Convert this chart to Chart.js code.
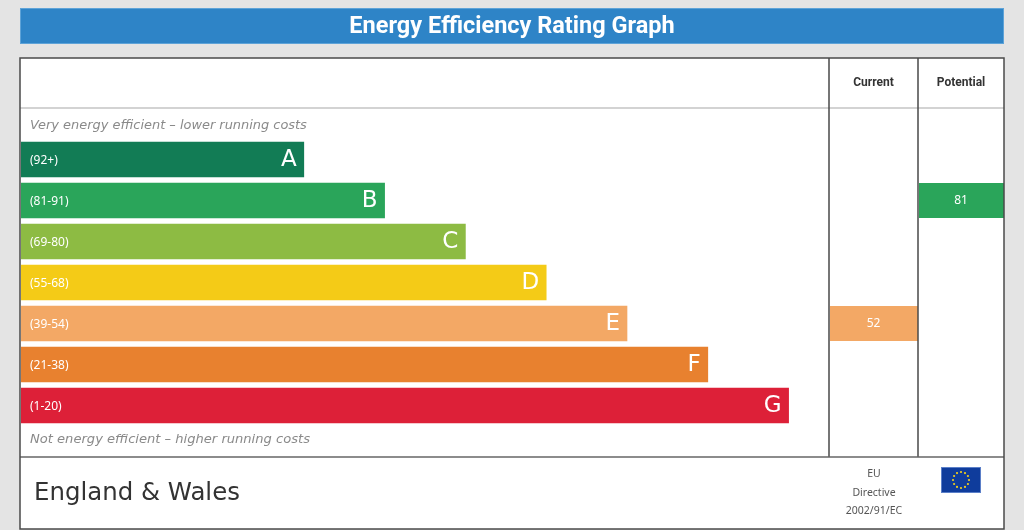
<!DOCTYPE html>
<html>
<head>
<meta charset="utf-8">
<title>Energy Efficiency Rating Graph</title>
<script src="https://cdn.jsdelivr.net/npm/chart.js@4.4.0/dist/chart.umd.min.js"></script>
<style>
    html, body { margin: 0; padding: 0; background: #e4e4e4; overflow: hidden; }
    #wrap { width: 1024px; height: 530px; position: relative; }
</style>
</head>
<body>
<div id="wrap"><canvas id="chart"></canvas></div>
<script>
const bands = ['A', 'B', 'C', 'D', 'E', 'F', 'G'];
const ranges = ['(92+)', '(81-91)', '(69-80)', '(55-68)', '(39-54)', '(21-38)', '(1-20)'];
const minScores = [92, 81, 69, 55, 39, 21, 1];
const barLengths = [35, 45, 55, 65, 75, 85, 95];
const bandColors = ['#127c55', '#2aa55a', '#8dbb43', '#f4cb17', '#f3a865', '#e8812f', '#dd2038'];
const columnTitles = ['Current', 'Potential'];
const currentRating = 52;
const potentialRating = 81;

const titleText = 'Energy Efficiency Rating Graph';
const topNote = 'Very energy efficient \u2013 lower running costs';
const bottomNote = 'Not energy efficient \u2013 higher running costs';
const regionText = 'England & Wales';
const directiveLines = ['EU', 'Directive', '2002/91/EC'];

// frame layout (pixels)
const box = { left: 20, top: 58, right: 1004, bottom: 529, header: 108, footer: 457 };
const cols = [{ left: 829, right: 918 }, { left: 918, right: 1004 }];

function bandIndex(score) {
    return minScores.findIndex(m => score >= m);
}

// pick a font size so the text comes out at roughly the wanted width
function fitFont(ctx, text, style, family, size, width) {
    ctx.font = `${style} ${size}px ${family}`;
    const s = size * width / ctx.measureText(text).width;
    ctx.font = `${style} ${s.toFixed(2)}px ${family}`;
}

const epcPlugin = {
    id: 'epc',
    beforeDraw(chart) {
        const ctx = chart.ctx;
        ctx.save();
        ctx.fillStyle = '#e4e4e4';
        ctx.fillRect(0, 0, chart.width, chart.height);

        // title bar
        ctx.fillStyle = '#2e84c7';
        ctx.fillRect(20, 8, 984, 36);
        ctx.strokeStyle = '#5ea3d8';
        ctx.lineWidth = 1;
        ctx.strokeRect(20.5, 8.5, 983, 35);
        ctx.fillStyle = '#ffffff';
        ctx.font = 'bold 23.5px Roboto';
        ctx.textAlign = 'center';
        ctx.textBaseline = 'middle';
        ctx.fillText(titleText, 512, 27);

        // white panel
        ctx.fillStyle = '#ffffff';
        ctx.fillRect(box.left, box.top, box.right - box.left, box.bottom - box.top);
        ctx.restore();
    },
    afterDatasetsDraw(chart) {
        const ctx = chart.ctx;
        const meta = chart.getDatasetMeta(0);
        ctx.save();
        ctx.fillStyle = '#ffffff';
        ctx.textBaseline = 'middle';
        meta.data.forEach((bar, i) => {
            ctx.font = '12px "Noto Sans"';
            ctx.textAlign = 'left';
            ctx.fillText(ranges[i], bar.base + 9, bar.y + 1);
            ctx.font = '23px "DejaVu Sans"';
            ctx.textAlign = 'right';
            ctx.fillText(bands[i], bar.x - 7, bar.y + 1);
        });
        ctx.restore();
    },
    afterDraw(chart) {
        const ctx = chart.ctx;
        const yScale = chart.scales.y;
        const area = chart.chartArea;
        ctx.save();

        // notes above and below the bands
        ctx.fillStyle = '#8a8a8a';
        ctx.textAlign = 'left';
        ctx.textBaseline = 'middle';
        fitFont(ctx, topNote, 'italic', '"DejaVu Sans"', 12, 277);
        ctx.fillText(topNote, 30, area.top - 13);
        fitFont(ctx, bottomNote, 'italic', '"DejaVu Sans"', 12, 280);
        ctx.fillText(bottomNote, 30, area.bottom + 14);

        // rating boxes
        [currentRating, potentialRating].forEach((score, c) => {
            const idx = bandIndex(score);
            const y = yScale.getPixelForValue(idx);
            const col = cols[c];
            ctx.fillStyle = bandColors[idx];
            ctx.fillRect(col.left + 1, y - 17.5, col.right - col.left - 1, 35);
            ctx.fillStyle = '#ffffff';
            ctx.font = '12px "Noto Sans"';
            ctx.textAlign = 'center';
            ctx.fillText(String(score), (col.left + col.right) / 2, y);
        });

        // grid lines
        ctx.strokeStyle = '#c4c4c4';
        ctx.lineWidth = 1.5;
        ctx.beginPath();
        ctx.moveTo(box.left, box.header);
        ctx.lineTo(box.right, box.header);
        ctx.stroke();

        ctx.strokeStyle = '#4a4a4a';
        ctx.lineWidth = 1.5;
        ctx.beginPath();
        cols.forEach(col => {
            ctx.moveTo(col.left, box.top);
            ctx.lineTo(col.left, box.footer);
        });
        ctx.stroke();

        ctx.strokeStyle = '#666666';
        ctx.beginPath();
        ctx.moveTo(box.left, box.footer);
        ctx.lineTo(box.right, box.footer);
        ctx.stroke();

        ctx.strokeStyle = '#4a4a4a';
        ctx.strokeRect(box.left, box.top, box.right - box.left, box.bottom - box.top);

        // column headings
        ctx.fillStyle = '#333333';
        ctx.font = 'bold 12px Roboto';
        ctx.textAlign = 'center';
        cols.forEach((col, c) => {
            ctx.fillText(columnTitles[c], (col.left + col.right) / 2, 83);
        });

        // footer
        ctx.fillStyle = '#333333';
        ctx.textAlign = 'left';
        fitFont(ctx, regionText, 'normal', '"DejaVu Sans"', 22, 206);
        ctx.fillText(regionText, 34, 494);

        ctx.fillStyle = '#555555';
        ctx.font = '10.5px "Noto Sans"';
        ctx.textAlign = 'center';
        directiveLines.forEach((line, i) => {
            ctx.fillText(line, 874, 474.5 + i * 18.5);
        });

        // EU flag
        ctx.fillStyle = '#0f3c9c';
        ctx.fillRect(941, 467, 40, 26);
        ctx.strokeStyle = '#5b7fc8';
        ctx.lineWidth = 1;
        ctx.strokeRect(941.5, 467.5, 39, 25);
        ctx.fillStyle = '#f2d01c';
        for (let k = 0; k < 12; k++) {
            const a = k * Math.PI / 6;
            ctx.beginPath();
            ctx.arc(961 + Math.cos(a) * 8, 480 + Math.sin(a) * 8, 1.1, 0, Math.PI * 2);
            ctx.fill();
        }
        ctx.restore();
    }
};

new Chart(document.getElementById('chart'), {
    type: 'bar',
    data: {
        labels: bands,
        datasets: [{
            data: barLengths,
            backgroundColor: bandColors,
            borderWidth: 0,
            barThickness: 35
        }]
    },
    options: {
        indexAxis: 'y',
        responsive: true,
        maintainAspectRatio: false,
        animation: false,
        layout: { padding: { left: 21, right: 195, top: 139, bottom: 104 } },
        scales: {
            x: { type: 'linear', min: 0, max: 100, display: false },
            y: { display: false }
        },
        plugins: {
            legend: { display: false },
            tooltip: { enabled: false }
        }
    },
    plugins: [epcPlugin]
});
</script>
</body>
</html>
